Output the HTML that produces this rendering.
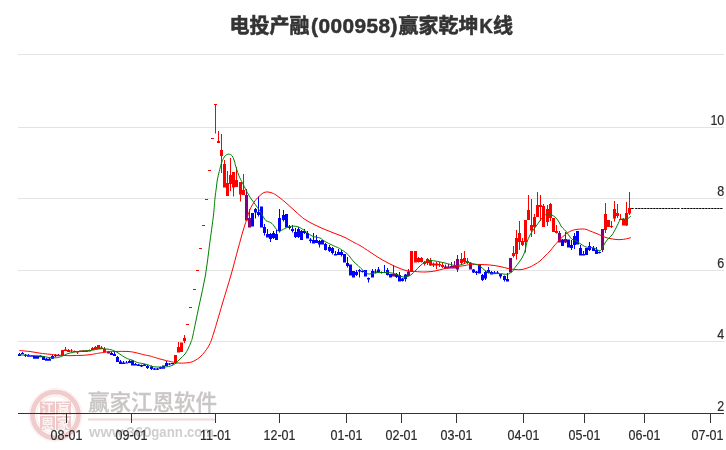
<!DOCTYPE html>
<html lang="zh-CN">
<head>
<meta charset="utf-8">
<title>电投产融(000958)赢家乾坤K线</title>
<style>
html,body{margin:0;padding:0;background:#fff;}
body{width:726px;height:450px;overflow:hidden;position:relative;font-family:"Liberation Sans","Noto Sans CJK SC",sans-serif;}
svg{position:absolute;left:0;top:0;display:block;}
.title{font-family:"Liberation Sans","Noto Sans CJK SC",sans-serif;font-weight:bold;font-size:20px;fill:#333;}
.ax{font-family:"Liberation Sans",sans-serif;font-size:13.9px;fill:#2a2a2a;stroke:#2a2a2a;stroke-width:0.2px;}
.wm1{font-family:"Liberation Sans","Noto Sans CJK SC",sans-serif;font-weight:500;font-size:21.5px;fill:#cbc6c6;stroke:#cbc6c6;stroke-width:0.3px;}
.wm2{font-family:"Liberation Sans",sans-serif;font-weight:bold;font-size:15.4px;fill:#d0cfcf;}
.st{font-family:"Liberation Sans","Noto Sans CJK SC",sans-serif;font-weight:bold;font-size:13px;fill:#fdf3f3;}
</style>
</head>
<body>
<svg width="726" height="450" viewBox="0 0 726 450">
<rect width="726" height="450" fill="#fff"/>
<g id="watermark">
<g id="stamp" fill="none">
<circle cx="55.5" cy="415" r="22.9" stroke="#f0cdcd" stroke-width="5"/>
<circle cx="55.5" cy="415" r="26.5" stroke="#f9e8e8" stroke-width="0.8"/>
<circle cx="55.5" cy="415" r="18.9" stroke="#fbf0f0" stroke-width="1.6"/>
<path d="M40 401.5h15v13.5h-15zM56 401.5h15v13.5h-15zM40 416h15v14h-15zM56 416h15v14h-15z" fill="#efc9c9" stroke="none"/>
</g>
<g class="st" text-anchor="middle">
<text x="47.5" y="413.2">江</text><text x="63.5" y="413.2">赢</text>
<text x="47.5" y="427.8">恩</text><text x="63.5" y="427.8">家</text>
</g>
<text class="wm1" x="88" y="409.6">赢家江恩软件</text>
<rect x="88" y="418.4" width="127" height="2.2" fill="#efd9d9"/>
<text class="wm2" y="436.5"><tspan x="89" textLength="34.5" lengthAdjust="spacingAndGlyphs">www</tspan><tspan x="123.4">.</tspan><tspan x="126.6" textLength="25" lengthAdjust="spacingAndGlyphs">360</tspan><tspan x="151.2" textLength="31.6" lengthAdjust="spacingAndGlyphs">gann</tspan><tspan x="183.4">.</tspan><tspan x="187" textLength="26.8" lengthAdjust="spacingAndGlyphs">com</tspan></text>
</g>
<g fill="#e3e3e3" shape-rendering="crispEdges"><rect x="18" y="54" width="706" height="1"/><rect x="18" y="127" width="706" height="1"/><rect x="18" y="198" width="706" height="1"/><rect x="18" y="270" width="706" height="1"/><rect x="18" y="341" width="706" height="1"/></g>
<g>
<path fill="#0000ff" d="M19 353h1v3h-1zM18 354h3v2h-3zM22 352h1v2.3h-1zM21 353h3v1.3h-3zM25 354h1v3h-1zM24 354.7h3v1.3h-3zM28 354h1v2.7h-1zM27 355h3v1.7h-3zM31 355h1v1.7h-1zM30 355.7h3v1h-3zM34 356h1v2.7h-1zM33 356h3v2.7h-3zM37 356h1v2.7h-1zM36 356h3v2.7h-3zM40 355.3h1v2h-1zM39 355.7h3v1.6h-3zM43 356h1v4h-1zM42 356.3h3v3.7h-3zM46 358h1v2.7h-1zM45 358.7h3v2h-3zM49 357.5h1v3.2h-1zM48 358.7h3v2h-3zM52 355h1v4h-1zM51 356h3v2.7h-3zM111 352h1v3h-1zM110 353h3v2h-3zM114 352h1v4h-1zM113 354h3v2h-3zM117 356h1v6h-1zM116 357h3v5h-3zM120 360h1v4h-1zM119 361.5h3v2.5h-3zM123 361h1v3h-1zM122 362.5h3v1.5h-3zM126 361h1v2.5h-1zM125 362.5h3v1h-3zM129 360h1v3h-1zM128 361h3v2h-3zM132 360h1v5.5h-1zM131 360.5h3v5h-3zM135 363h1v2.5h-1zM134 364h3v1.5h-3zM138 364h1v2h-1zM137 364.5h3v1.5h-3zM141 364.5h1v2.5h-1zM140 365h3v1.5h-3zM144 364h1v2h-1zM143 364.5h3v1.5h-3zM147 365h1v4h-1zM146 366h3v2h-3zM151 365.5h1v4.5h-1zM150 366.5h3v2.5h-3zM154 368h1v2h-1zM153 368.5h3v1.2h-3zM157 368h1v2h-1zM156 368.5h3v1.2h-3zM160 366.5h1v2.5h-1zM159 367h3v1.7h-3zM163 365.5h1v3.2h-1zM162 365.5h3v3.2h-3zM166 361h1v5h-1zM165 363h3v3h-3zM169 363h1v2h-1zM168 363.5h3v1h-3zM172 363h1v1.5h-1zM171 363h3v1h-3zM252 213h1v13.5h-1zM251 213h3v13.5h-3zM255 208h1v10.5h-1zM254 209h3v3.5h-3zM258 196.5h1v20h-1zM257 212h3v3h-3zM261 206.5h1v21h-1zM260 206.5h3v21h-3zM264 224h1v11.5h-1zM263 227h3v6h-3zM267 229h1v8.5h-1zM266 234h3v3.5h-3zM270 233h1v9h-1zM269 234h3v5h-3zM273 231h1v8h-1zM272 233h3v5h-3zM276 230h1v10h-1zM275 234h3v6h-3zM279 209h1v23.5h-1zM278 218h3v13h-3zM283 210h1v11.5h-1zM282 215h3v5h-3zM286 214h1v13.5h-1zM285 214h3v13.5h-3zM289 225h1v4.5h-1zM288 226.5h3v1.5h-3zM292 225h1v7.5h-1zM291 229h3v2h-3zM295 228h1v10h-1zM294 232h3v5h-3zM298 227h1v11h-1zM297 229h3v8h-3zM301 230h1v10h-1zM300 231h3v9h-3zM304 229h1v5h-1zM303 231h3v2h-3zM307 231h1v7.5h-1zM306 233h3v5.5h-3zM310 238h1v5h-1zM309 239.5h3v1.5h-3zM313 233h1v10.5h-1zM312 240h3v3.5h-3zM316 235h1v8h-1zM315 240h3v3h-3zM319 240h1v7.5h-1zM318 241h3v3.5h-3zM322 240h1v4.5h-1zM321 240h3v4.5h-3zM325 243h1v7.5h-1zM324 244h3v6h-3zM329 245h1v7h-1zM328 247h3v4h-3zM332 247h1v7.5h-1zM331 248h3v5h-3zM335 251h1v4.5h-1zM334 254h3v1.5h-3zM338 249h1v6h-1zM337 252h3v3h-3zM341 250h1v6.5h-1zM340 252h3v3h-3zM344 254h1v8.5h-1zM343 254h3v8.5h-3zM347 257h1v10.5h-1zM346 263h3v3h-3zM350 264.5h1v11h-1zM349 264.5h3v11h-3zM353 271h1v6.5h-1zM352 271h3v6.5h-3zM356 270h1v6h-1zM355 272h3v3h-3zM359 269h1v8.5h-1zM358 270h3v1.5h-3zM362 270.5h1v2h-1zM361 271h3v1h-3zM365 270h1v6.5h-1zM364 270h3v6.5h-3zM368 277.5h1v5h-1zM367 278h3v1.5h-3zM372 269h1v8.5h-1zM371 271h3v6.5h-3zM375 269h1v4.5h-1zM374 271.5h3v1h-3zM378 267h1v5h-1zM377 269.5h3v2.5h-3zM381 271.5h1v2h-1zM380 272h3v1h-3zM384 265h1v8h-1zM383 272h3v1h-3zM387 268h1v7.5h-1zM386 270h3v5h-3zM390 274h1v3.5h-1zM389 274h3v3.5h-3zM396 273h1v5h-1zM395 274h3v3h-3zM399 272h1v9.5h-1zM398 275h3v6.5h-3zM402 278h1v3.5h-1zM401 278.5h3v2.5h-3zM405 274h1v7.5h-1zM404 274.5h3v4.5h-3zM473 269h1v4h-1zM472 269.5h3v3h-3zM476 271h1v4h-1zM475 271.5h3v1.5h-3zM479 265h1v8.5h-1zM478 265h3v8.5h-3zM482 274h1v7h-1zM481 275h3v5h-3zM485 271h1v9h-1zM484 272h3v6.5h-3zM488 267h1v6.5h-1zM487 270h3v3h-3zM491 271h1v3.5h-1zM490 272h3v2.5h-3zM494 271h1v3h-1zM493 272.5h3v1.5h-3zM497 271h1v3h-1zM496 272.5h3v1.5h-3zM500 274h1v4.5h-1zM499 274h3v2.5h-3zM504 275.5h1v6h-1zM503 276h3v4h-3zM507 273h1v8.5h-1zM506 279h3v2.5h-3zM562 239h1v7h-1zM561 239.5h3v6.5h-3zM568 239.5h1v8h-1zM567 239.5h3v8h-3zM571 240h1v10h-1zM570 245h3v3h-3zM574 233h1v16h-1zM573 236h3v9h-3zM577 231h1v13.5h-1zM576 231h3v13.5h-3zM580 245h1v10.5h-1zM579 248h3v7.5h-3zM583 251h1v4.5h-1zM582 254h3v1.5h-3zM586 248h1v7h-1zM585 248h3v7h-3zM589 242h1v9h-1zM588 246h3v4h-3zM593 246h1v5h-1zM592 248h3v3h-3zM596 247h1v7h-1zM595 250h3v4h-3zM599 251.5h1v2h-1zM598 252h3v1h-3z"/>
<path fill="#800080" d="M55 354h1v3.3h-1zM54 355h3v1.3h-3zM58 354h1v2.3h-1zM57 355h3v1.3h-3zM108 351h1v2.5h-1zM107 351.5h3v2h-3zM246 189h1v31.5h-1zM245 195h3v25.5h-3zM249 209h1v18.5h-1zM248 218h3v9.5h-3zM393 265h1v11.5h-1zM392 274h3v2.5h-3zM408 269h1v7h-1zM407 271.5h3v4.5h-3zM445 264.5h1v4h-1zM444 266.5h3v2h-3zM448 264h1v4.5h-1zM447 266.5h3v2h-3zM451 262h1v6.5h-1zM450 266h3v2.5h-3zM454 261h1v7.5h-1zM453 265.5h3v3h-3zM457 255h1v17h-1zM456 259h3v10.5h-3zM470 262h1v7.5h-1zM469 263h3v6.5h-3zM510 258h1v14.5h-1zM509 258h3v14.5h-3zM559 231h1v11.5h-1zM558 233h3v9.5h-3zM565 232h1v11h-1zM564 239h3v3.5h-3zM602 229h1v23h-1zM601 229h3v21h-3z"/>
<path fill="#ff0000" d="M62 350h1v5.5h-1zM61 350h3v5.5h-3zM65 347h1v4h-1zM64 349.5h3v1.5h-3zM68 349h1v3h-1zM67 350h3v2h-3zM71 349h1v3h-1zM70 350.5h3v1h-3zM74 350.5h1v1.5h-1zM73 351h3v1h-3zM77 351h1v3h-1zM76 351h3v1.5h-3zM80 350.5h1v1.5h-1zM79 350.5h3v1.5h-3zM83 350h1v2h-1zM82 350.5h3v1.5h-3zM86 350h1v2h-1zM85 350.5h3v1.5h-3zM89 349.5h1v2h-1zM88 350h3v1.5h-3zM92 347h1v3h-1zM91 348h3v2h-3zM95 346h1v3.5h-1zM94 347h3v2.5h-3zM98 345h1v4h-1zM97 345h3v4h-3zM101 346h1v3h-1zM100 347.5h3v1.5h-3zM104 347h1v5.5h-1zM103 349h3v3.5h-3zM175 355h1v8.5h-1zM174 355h3v8.5h-3zM178 342h1v10.5h-1zM177 347h3v5.5h-3zM181 342.5h1v9.5h-1zM180 342.5h3v9.5h-3zM184 335h1v8h-1zM183 338h3v3h-3zM187 324h1v1h-1zM186 324h3v1h-3zM190 307h1v1h-1zM189 307h3v1h-3zM194 289h1v1h-1zM193 289h3v1h-3zM197 270h1v1h-1zM196 270h3v1h-3zM200 248h1v1h-1zM199 248h3v1h-3zM203 225h1v1h-1zM202 225h3v1h-3zM206 199h1v1h-1zM205 199h3v1h-3zM209 170h1v1h-1zM208 170h3v1h-3zM212 138h1v1h-1zM211 138h3v1h-3zM215 104h1v29.5h-1zM214 104h3v1h-3zM218 131h1v12h-1zM217 141h3v2h-3zM221 134h1v39h-1zM220 150h3v6h-3zM224 160h1v27.5h-1zM223 164h3v23.5h-3zM227 171h1v25h-1zM226 183h3v13h-3zM230 158h1v33h-1zM229 175h3v9h-3zM233 172h1v24.5h-1zM232 172h3v15.5h-3zM236 167h1v20h-1zM235 180h3v7h-3zM240 182h1v19.5h-1zM239 182h3v12.5h-3zM243 174h1v21h-1zM242 190h3v5h-3zM411 251h1v21h-1zM410 251h3v21h-3zM415 251h1v11.5h-1zM414 251h3v11.5h-3zM418 257h1v5.5h-1zM417 258h3v4h-3zM421 257h1v5.5h-1zM420 258h3v4h-3zM424 261h1v4.5h-1zM423 262h3v2h-3zM427 258h1v7h-1zM426 259h3v4h-3zM430 258h1v8h-1zM429 260h3v5.5h-3zM433 262.5h1v4.5h-1zM432 263.5h3v2h-3zM436 262h1v7h-1zM435 263.5h3v2h-3zM439 262h1v5h-1zM438 264h3v1.5h-3zM442 262h1v6h-1zM441 265h3v2h-3zM461 253h1v12h-1zM460 259h3v4h-3zM464 251h1v12h-1zM463 258h3v4h-3zM467 258h1v6h-1zM466 261h3v2h-3zM513 246h1v11.5h-1zM512 253h3v3h-3zM516 230h1v29.5h-1zM515 238h3v16h-3zM519 221h1v29h-1zM518 233h3v9h-3zM522 238h1v8h-1zM521 241h3v4h-3zM525 220h1v32.5h-1zM524 220h3v22h-3zM528 195h1v25h-1zM527 210h3v10h-3zM531 199h1v38h-1zM530 225h3v5.5h-3zM534 214h1v20h-1zM533 217h3v10h-3zM537 192h1v25h-1zM536 205h3v12h-3zM540 195h1v26h-1zM539 205h3v2h-3zM543 204h1v23h-1zM542 206h3v21h-3zM547 205h1v21h-1zM546 209h3v13h-3zM550 203h1v18h-1zM549 204h3v14h-3zM553 218h1v14h-1zM552 218h3v14h-3zM556 225h1v8.5h-1zM555 231h3v2h-3zM605 203h1v30h-1zM604 214h3v16h-3zM608 220h1v7h-1zM607 220h3v7h-3zM611 221h1v7h-1zM610 226h3v1h-3zM614 201h1v20.5h-1zM613 209h3v9.5h-3zM617 204h1v14h-1zM616 213h3v3h-3zM620 214h1v6h-1zM619 219h3v1h-3zM623 218h1v7.5h-1zM622 219h3v6.5h-3zM626 202h1v24h-1zM625 213h3v12.5h-3zM629 192h1v23h-1zM628 208h3v5.5h-3z"/>
</g>
<path d="M19.5 350.5C21.2 350.7 26.6 351.1 30.0 351.5C33.4 351.9 36.7 352.7 40.0 353.2C43.3 353.7 47.2 354.0 50.0 354.3C52.8 354.6 54.5 354.8 56.7 355.0C58.9 355.2 61.1 355.4 63.3 355.5C65.5 355.6 67.8 355.7 70.0 355.7C72.2 355.7 74.5 355.6 76.7 355.5C78.9 355.4 81.1 355.4 83.3 355.3C85.5 355.2 87.8 355.0 90.0 354.7C92.2 354.4 95.0 353.8 96.7 353.5C98.4 353.2 98.5 353.2 100.0 353.0C101.5 352.8 103.5 352.2 106.0 352.0C108.5 351.8 111.3 351.6 115.0 351.5C118.7 351.4 124.7 351.3 128.0 351.5C131.3 351.7 132.2 351.9 135.0 352.5C137.8 353.1 142.5 354.4 145.0 355.0C147.5 355.6 148.6 355.7 150.0 356.0C151.4 356.3 151.6 356.5 153.3 357.0C155.0 357.5 157.8 358.4 160.0 359.0C162.2 359.6 164.5 360.2 166.7 360.7C168.9 361.2 171.6 361.8 173.3 362.2C175.0 362.6 175.6 362.8 176.7 362.9C177.8 363.0 178.9 363.1 180.0 363.1C181.1 363.1 182.0 363.2 183.3 363.1C184.6 363.0 186.7 362.9 188.0 362.7C189.3 362.5 189.8 362.6 191.0 362.2C192.2 361.8 193.5 361.4 195.0 360.5C196.5 359.6 198.3 358.5 200.0 357.0C201.7 355.5 203.3 353.8 205.0 351.5C206.7 349.2 208.5 346.8 210.0 343.5C211.5 340.2 212.0 338.4 214.0 332.0C216.0 325.6 219.2 314.5 222.0 305.0C224.8 295.5 228.3 284.3 231.0 275.0C233.7 265.7 236.0 256.3 238.0 249.0C240.0 241.7 241.6 235.8 243.0 231.0C244.4 226.2 245.3 223.6 246.5 220.0C247.7 216.4 248.6 212.7 250.0 209.5C251.4 206.3 253.3 203.1 255.0 200.8C256.7 198.5 258.5 196.9 260.0 195.5C261.5 194.1 262.7 193.1 264.0 192.5C265.3 191.9 266.7 191.9 268.0 192.0C269.3 192.1 270.7 192.5 272.0 193.0C273.3 193.5 273.8 193.5 276.0 195.0C278.2 196.5 281.8 199.3 285.0 202.0C288.2 204.7 291.7 208.1 295.0 211.0C298.3 213.9 301.7 217.2 305.0 219.5C308.3 221.8 311.7 223.3 315.0 225.0C318.3 226.7 321.7 228.1 325.0 229.5C328.3 230.9 331.7 232.2 335.0 233.5C338.3 234.8 341.7 235.9 345.0 237.5C348.3 239.1 352.5 241.7 355.0 243.0C357.5 244.3 357.5 244.0 360.0 245.5C362.5 247.0 366.7 249.8 370.0 252.0C373.3 254.2 376.7 256.5 380.0 258.5C383.3 260.5 386.7 262.3 390.0 264.0C393.3 265.7 397.0 267.3 400.0 268.5C403.0 269.7 405.5 270.5 408.0 271.0C410.5 271.5 412.2 271.3 415.0 271.5C417.8 271.7 421.7 272.1 425.0 272.0C428.3 271.9 431.7 271.6 435.0 271.0C438.3 270.4 441.7 269.2 445.0 268.5C448.3 267.8 451.7 267.5 455.0 267.0C458.3 266.5 462.5 265.9 465.0 265.5C467.5 265.1 467.5 264.7 470.0 264.5C472.5 264.3 476.7 264.4 480.0 264.5C483.3 264.6 486.7 264.7 490.0 265.0C493.3 265.3 497.0 265.9 500.0 266.5C503.0 267.1 505.5 268.0 508.0 268.5C510.5 269.0 512.7 269.3 515.0 269.5C517.3 269.7 519.5 269.9 522.0 269.5C524.5 269.1 527.8 267.9 530.0 267.0C532.2 266.1 533.3 265.3 535.0 264.3C536.7 263.3 538.3 262.4 540.0 261.0C541.7 259.6 543.3 257.7 545.0 256.0C546.7 254.3 548.5 252.7 550.0 251.0C551.5 249.3 553.0 247.2 554.0 246.0C555.0 244.8 555.1 244.7 556.0 243.7C556.9 242.7 558.2 241.2 559.3 240.0C560.4 238.8 561.6 237.7 562.7 236.7C563.8 235.7 564.9 234.8 566.0 234.0C567.1 233.2 568.2 232.3 569.3 231.7C570.4 231.1 571.6 230.7 572.7 230.3C573.8 229.9 574.9 229.7 576.0 229.5C577.1 229.3 578.2 229.2 579.3 229.1C580.4 229.0 581.6 229.0 582.7 229.0C583.8 229.0 584.9 229.0 586.0 229.3C587.1 229.6 588.2 230.2 589.3 230.7C590.4 231.1 591.6 231.6 592.7 232.0C593.8 232.4 594.9 232.9 596.0 233.3C597.1 233.8 598.2 234.2 599.3 234.7C600.4 235.2 601.6 235.8 602.7 236.3C603.8 236.8 604.8 237.2 606.0 237.6C607.2 238.0 608.3 238.2 610.0 238.5C611.7 238.8 614.0 239.3 616.0 239.5C618.0 239.7 620.0 239.7 622.0 239.5C624.0 239.3 626.5 238.8 628.0 238.5C629.5 238.2 630.5 237.7 631.0 237.5" fill="none" stroke="#ff0000" stroke-width="1"/>
<path d="M19.5 354.5C19.9 354.6 18.6 354.8 22.0 355.0C25.4 355.2 35.3 355.6 40.0 356.0C44.7 356.4 47.2 357.4 50.0 357.7C52.8 358.0 55.0 357.8 56.7 357.7C58.4 357.6 58.9 357.3 60.0 357.0C61.1 356.7 62.2 356.2 63.3 355.7C64.4 355.2 65.6 354.4 66.7 354.0C67.8 353.6 68.9 353.3 70.0 353.0C71.1 352.7 72.2 352.5 73.3 352.3C74.4 352.1 75.6 351.9 76.7 351.7C77.8 351.5 78.9 351.4 80.0 351.3C81.1 351.2 82.2 351.1 83.3 351.0C84.4 350.9 85.6 350.9 86.7 350.8C87.8 350.7 88.9 350.7 90.0 350.6C91.1 350.5 92.2 350.2 93.3 350.0C94.4 349.8 95.7 349.5 96.7 349.3C97.7 349.1 98.3 349.1 99.3 349.0C100.3 348.9 101.6 348.7 102.7 348.7C103.8 348.7 104.9 348.9 106.0 349.0C107.1 349.1 108.2 349.1 109.3 349.3C110.4 349.5 111.6 349.9 112.7 350.3C113.8 350.7 114.9 351.1 116.0 351.7C117.1 352.3 118.2 353.0 119.3 353.7C120.4 354.4 121.6 355.3 122.7 356.0C123.8 356.7 124.9 357.4 126.0 358.0C127.1 358.6 128.2 358.9 129.3 359.3C130.4 359.7 131.6 359.9 132.7 360.3C133.8 360.8 134.9 361.6 136.0 362.0C137.1 362.4 138.0 362.7 139.3 363.0C140.6 363.3 142.6 363.5 144.0 363.8C145.4 364.1 146.7 364.4 148.0 364.8C149.3 365.2 150.3 366.1 152.0 366.5C153.7 366.9 155.8 366.9 158.0 367.0C160.2 367.1 162.7 367.2 165.0 367.0C167.3 366.8 170.2 366.2 172.0 365.5C173.8 364.8 174.7 364.1 176.0 363.0C177.3 361.9 178.5 360.5 180.0 359.0C181.5 357.5 183.7 355.7 185.0 354.0C186.3 352.3 187.0 351.0 188.0 349.0C189.0 347.0 190.2 344.3 191.0 342.0C191.8 339.7 191.7 341.0 193.0 335.0C194.3 329.0 196.9 316.0 199.0 306.0C201.1 296.0 203.8 285.2 205.5 275.0C207.2 264.8 208.2 255.0 209.5 245.0C210.8 235.0 212.6 222.8 213.5 215.0C214.4 207.2 214.5 202.5 215.0 198.0C215.5 193.5 215.9 191.0 216.3 188.0C216.7 185.0 216.8 182.8 217.3 180.0C217.8 177.2 218.6 174.1 219.3 171.3C220.0 168.6 220.6 165.6 221.3 163.5C222.0 161.4 222.6 160.0 223.3 158.7C224.0 157.4 224.4 156.5 225.3 155.7C226.2 154.9 227.6 154.1 228.7 154.1C229.8 154.1 231.1 154.7 232.0 155.7C232.9 156.7 233.4 158.5 234.0 160.0C234.6 161.5 234.9 163.1 235.3 164.7C235.8 166.2 236.1 167.5 236.7 169.3C237.3 171.1 238.0 173.6 238.7 175.3C239.4 177.0 240.1 178.4 240.7 179.7C241.3 181.0 241.6 181.3 242.5 183.0C243.4 184.7 244.9 187.9 246.0 190.0C247.1 192.1 248.0 193.8 249.0 195.5C250.0 197.2 251.2 198.8 252.0 200.0C252.8 201.2 253.1 201.5 254.0 202.7C254.9 203.9 256.2 205.8 257.3 207.3C258.4 208.9 259.6 210.2 260.7 212.0C261.8 213.8 263.1 216.6 264.0 218.0C264.9 219.4 265.1 220.0 266.0 220.7C266.9 221.4 268.3 221.5 269.3 222.0C270.3 222.5 271.2 222.8 272.0 223.5C272.8 224.2 273.2 225.0 274.0 226.0C274.8 227.0 275.8 228.8 276.7 229.7C277.6 230.6 278.6 231.2 279.5 231.3C280.4 231.4 281.1 230.5 282.0 230.0C282.9 229.5 283.7 229.1 285.0 228.5C286.3 227.9 288.0 226.8 290.0 226.5C292.0 226.2 294.8 226.0 297.0 226.5C299.2 227.0 300.5 227.9 303.0 229.5C305.5 231.1 309.2 234.6 312.0 236.0C314.8 237.4 317.8 237.1 320.0 238.0C322.2 238.9 323.0 240.3 325.0 241.5C327.0 242.7 329.7 243.9 332.0 245.0C334.3 246.1 337.0 247.2 338.7 248.0C340.4 248.8 340.9 249.3 342.0 250.0C343.1 250.7 344.2 251.4 345.3 252.3C346.4 253.2 347.7 254.2 348.7 255.3C349.7 256.4 350.4 257.6 351.3 258.7C352.2 259.8 352.9 260.9 354.0 262.0C355.1 263.1 356.8 264.4 358.0 265.5C359.2 266.6 359.8 267.4 361.0 268.5C362.2 269.6 363.8 271.1 365.0 272.0C366.2 272.9 366.8 273.8 368.0 274.0C369.2 274.2 370.3 273.8 372.0 273.5C373.7 273.2 375.8 272.7 378.0 272.5C380.2 272.3 382.7 272.4 385.0 272.5C387.3 272.6 389.8 272.6 392.0 273.0C394.2 273.4 396.2 274.3 398.0 275.0C399.8 275.7 401.3 276.8 403.0 277.0C404.7 277.2 406.5 277.0 408.0 276.5C409.5 276.0 410.8 274.9 412.0 274.0C413.2 273.1 413.7 272.3 415.0 271.0C416.3 269.7 418.3 267.5 420.0 266.0C421.7 264.5 423.3 262.9 425.0 262.0C426.7 261.1 428.3 260.7 430.0 260.5C431.7 260.3 432.5 260.6 435.0 261.0C437.5 261.4 441.7 262.2 445.0 263.0C448.3 263.8 452.5 265.2 455.0 265.5C457.5 265.8 458.5 265.3 460.0 265.0C461.5 264.7 462.8 264.1 464.0 263.7C465.2 263.3 466.2 262.6 467.3 262.5C468.4 262.4 469.6 262.8 470.7 263.0C471.8 263.2 472.9 263.7 474.0 264.0C475.1 264.3 476.2 264.2 477.3 264.7C478.4 265.1 479.6 265.9 480.7 266.7C481.8 267.5 482.9 268.9 484.0 269.7C485.1 270.5 486.2 271.1 487.3 271.7C488.4 272.3 489.6 273.0 490.7 273.3C491.8 273.6 492.9 273.7 494.0 273.7C495.1 273.7 496.2 273.5 497.3 273.5C498.4 273.5 499.6 273.6 500.7 273.7C501.8 273.8 502.9 274.0 504.0 274.1C505.1 274.2 506.4 274.4 507.3 274.3C508.2 274.2 508.6 274.1 509.3 273.7C510.0 273.3 510.9 272.6 511.5 272.2C512.1 271.8 512.4 271.8 513.0 271.0C513.6 270.2 513.8 269.2 515.0 267.5C516.2 265.8 518.6 263.1 520.0 261.0C521.4 258.9 522.6 257.0 523.5 255.0C524.4 253.0 524.9 251.2 525.5 249.0C526.1 246.8 526.2 244.3 527.0 242.0C527.8 239.7 528.8 237.2 530.0 235.0C531.2 232.8 532.7 230.9 534.0 229.0C535.3 227.1 536.7 225.3 538.0 223.5C539.3 221.7 540.5 219.6 542.0 218.0C543.5 216.4 545.3 214.5 547.0 214.0C548.7 213.5 550.5 214.3 552.0 215.0C553.5 215.7 554.8 216.8 556.0 218.0C557.2 219.2 558.2 220.7 559.0 222.0C559.8 223.3 560.4 225.0 561.0 226.0C561.6 227.0 561.9 227.1 562.7 228.0C563.5 228.9 564.9 230.0 566.0 231.3C567.1 232.6 568.3 234.7 569.3 236.0C570.3 237.3 570.9 238.5 572.0 239.3C573.1 240.1 574.8 240.4 576.0 241.0C577.2 241.6 578.2 242.3 579.3 243.0C580.4 243.7 581.6 244.6 582.7 245.3C583.8 246.0 584.9 246.6 586.0 247.0C587.1 247.4 588.2 247.4 589.3 247.5C590.4 247.6 591.6 247.4 592.7 247.7C593.8 247.9 594.9 248.5 596.0 249.0C597.1 249.5 598.4 250.5 599.3 250.7C600.2 250.9 600.7 250.6 601.3 250.0C601.9 249.4 602.1 248.5 602.7 247.3C603.3 246.1 604.1 244.4 605.0 243.0C605.9 241.6 606.8 240.3 608.0 239.0C609.2 237.7 610.7 236.8 612.0 235.0C613.3 233.2 614.7 230.5 616.0 228.0C617.3 225.5 619.0 221.5 620.0 220.0C621.0 218.5 620.8 219.2 622.0 219.0C623.2 218.8 625.5 219.5 627.0 219.0C628.5 218.5 630.3 216.5 631.0 216.0" fill="none" stroke="#008000" stroke-width="1"/>
<g stroke="#000" stroke-width="1" fill="none"><line x1="631.2" y1="208.5" x2="633.7" y2="208.5"/><line x1="635.2" y1="208.5" x2="679.6" y2="208.5" stroke-dasharray="2.3 0.7"/><line x1="681.2" y1="208.5" x2="723" y2="208.5" stroke-dasharray="2.3 0.7"/></g>
<g fill="#333" shape-rendering="crispEdges"><rect x="18" y="413" width="706" height="1"/><rect x="66" y="413" width="1" height="10"/><rect x="131" y="413" width="1" height="10"/><rect x="215" y="413" width="1" height="10"/><rect x="279" y="413" width="1" height="10"/><rect x="346" y="413" width="1" height="10"/><rect x="401" y="413" width="1" height="10"/><rect x="456" y="413" width="1" height="10"/><rect x="523" y="413" width="1" height="10"/><rect x="584" y="413" width="1" height="10"/><rect x="644" y="413" width="1" height="10"/><rect x="710" y="413" width="1" height="10"/></g>
<g class="ax"><text transform="translate(724.3,125.1) scale(0.9,1)" text-anchor="end">10</text><text transform="translate(724.3,196.1) scale(0.9,1)" text-anchor="end">8</text><text transform="translate(724.3,268.1) scale(0.9,1)" text-anchor="end">6</text><text transform="translate(724.3,339.1) scale(0.9,1)" text-anchor="end">4</text><text transform="translate(724.3,411.1) scale(0.9,1)" text-anchor="end">2</text><text transform="translate(66.5,440.1) scale(0.9,1)" text-anchor="middle">08-01</text><text transform="translate(131.5,440.1) scale(0.9,1)" text-anchor="middle">09-01</text><text transform="translate(215.5,440.1) scale(0.9,1)" text-anchor="middle">11-01</text><text transform="translate(279.5,440.1) scale(0.9,1)" text-anchor="middle">12-01</text><text transform="translate(346.5,440.1) scale(0.9,1)" text-anchor="middle">01-01</text><text transform="translate(401.5,440.1) scale(0.9,1)" text-anchor="middle">02-01</text><text transform="translate(456.5,440.1) scale(0.9,1)" text-anchor="middle">03-01</text><text transform="translate(523.5,440.1) scale(0.9,1)" text-anchor="middle">04-01</text><text transform="translate(584.5,440.1) scale(0.9,1)" text-anchor="middle">05-01</text><text transform="translate(644.5,440.1) scale(0.9,1)" text-anchor="middle">06-01</text><text transform="translate(707.5,440.1) scale(0.9,1)" text-anchor="middle">07-01</text></g>
<text class="title" y="33" stroke="#333" stroke-width="0.55"><tspan x="229.5">电投产融</tspan><tspan x="311" style="font-size:20.8px;letter-spacing:0.45px">(000958)</tspan><tspan x="398.5" style="letter-spacing:0">赢家乾坤</tspan><tspan x="479.4" style="font-size:20.5px" textLength="13.3" lengthAdjust="spacingAndGlyphs">K</tspan><tspan x="493">线</tspan></text>
</svg>
</body>
</html>
